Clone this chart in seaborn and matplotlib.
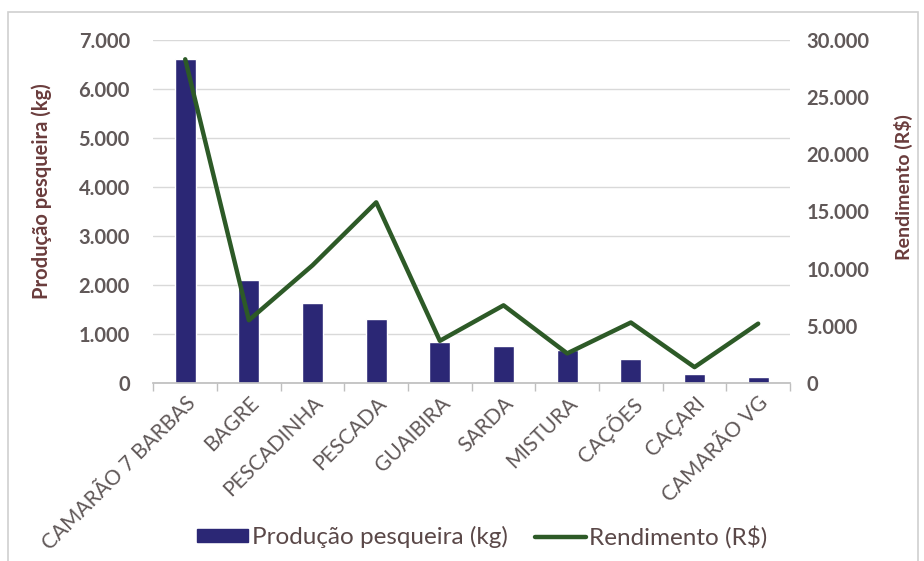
import matplotlib
matplotlib.use("Agg")
import matplotlib.pyplot as plt
import seaborn as sns
import pandas as pd
import numpy as np
from matplotlib.ticker import FuncFormatter, FixedLocator
from matplotlib.patches import Rectangle, Patch
from matplotlib.lines import Line2D

categories = ["CAMARÃO 7 BARBAS", "BAGRE", "PESCADINHA", "PESCADA", "GUAIBIRA",
              "SARDA", "MISTURA", "CAÇÕES", "CAÇARI", "CAMARÃO VG"]
producao_kg = [6600, 2100, 1630, 1310, 840, 750, 680, 490, 180, 130]
rendimento_rs = [28300, 5500, 10300, 15800, 3700, 6800, 2600, 5300, 1400, 5200]
left_ticks = [0, 1000, 2000, 3000, 4000, 5000, 6000, 7000]
right_ticks = [0, 5000, 10000, 15000, 20000, 25000, 30000]

sns.set_theme(style="white")
plt.rcParams['font.family'] = ['Lato', 'DejaVu Sans']

df = pd.DataFrame({"cat": categories, "prod": producao_kg, "rend": rendimento_rs,
                   "pos": np.arange(len(categories))})

BAR = "#2b2775"
LINE = "#2d5a27"
TXT = "#605858"
LBL = "#6a3c3c"
LEG = "#5a4848"

fig = plt.figure(figsize=(9.24, 5.61), dpi=100)
ax = fig.add_axes([0.166, 0.317, 0.689, 0.612])
ax2 = ax.twinx()

sns.barplot(data=df, x="cat", y="prod", ax=ax, color=BAR, width=0.33,
            saturation=1, order=categories)
sns.lineplot(data=df, x="pos", y="rend", ax=ax2, color=LINE, linewidth=3.2)

fmt = FuncFormatter(lambda v, p: f"{int(v):,}".replace(",", "."))
ax.set_ylim(0, 7000)
ax.yaxis.set_major_locator(FixedLocator(left_ticks))
ax.yaxis.set_major_formatter(fmt)
ax2.set_ylim(0, 30000)
ax2.yaxis.set_major_locator(FixedLocator(right_ticks))
ax2.yaxis.set_major_formatter(fmt)
ax.set_xlim(-0.5, len(categories) - 0.5)
ax2.set_xlim(-0.5, len(categories) - 0.5)

ax.grid(axis="y", color="#d9d9d9", linewidth=1)
ax.set_axisbelow(True)
for a in (ax, ax2):
    for s in ["top", "left", "right"]:
        a.spines[s].set_visible(False)
    a.spines["bottom"].set_color("#bfbfbf")
ax2.spines["bottom"].set_visible(False)

ax.tick_params(axis="y", length=0, labelsize=14.5, labelcolor=TXT, pad=17)
ax2.tick_params(axis="y", length=0, labelsize=14.5, labelcolor=TXT, pad=12)
for t in ax.get_yticklabels() + ax2.get_yticklabels():
    t.set_fontweight("bold")

ax.set_xticks(np.arange(len(categories)))
ax.set_xticklabels(categories, rotation=45, ha="right", rotation_mode="anchor",
                   fontsize=15, color=TXT)
ax.tick_params(axis="x", length=0, pad=7)
ax.set_xticks(np.arange(len(categories) + 1) - 0.5, minor=True)
ax.tick_params(axis="x", which="minor", length=6, color="#bfbfbf", width=1, bottom=True)

ax.set_xlabel("")
ax2.set_xlabel("")
ax.set_ylabel("Produção pesqueira (kg)", fontsize=14.5, fontweight="bold", color=LBL)
ax2.set_ylabel("Rendimento (R$)", fontsize=14, fontweight="bold", color=LBL)
ax.yaxis.set_label_coords(-0.159, 0.56)
ax2.yaxis.set_label_coords(1.163, 0.57)

handles = [Patch(facecolor=BAR, edgecolor=BAR),
           Line2D([0], [0], color=LINE, linewidth=3.2)]
fig.legend(handles, ["Produção pesqueira (kg)", "Rendimento (R$)"], loc="center",
           bbox_to_anchor=(0.522, 0.043), ncol=2, frameon=False, fontsize=17.5,
           labelcolor=LEG, handlelength=2.1, handleheight=0.42, handletextpad=0.15,
           columnspacing=1.1)

fig.patches.append(Rectangle((0.009, -0.02), 0.985, 0.998, transform=fig.transFigure,
                             fill=False, edgecolor="#d0d0d0", linewidth=1.2))

fig.savefig("out.png", dpi=100, facecolor="white")
